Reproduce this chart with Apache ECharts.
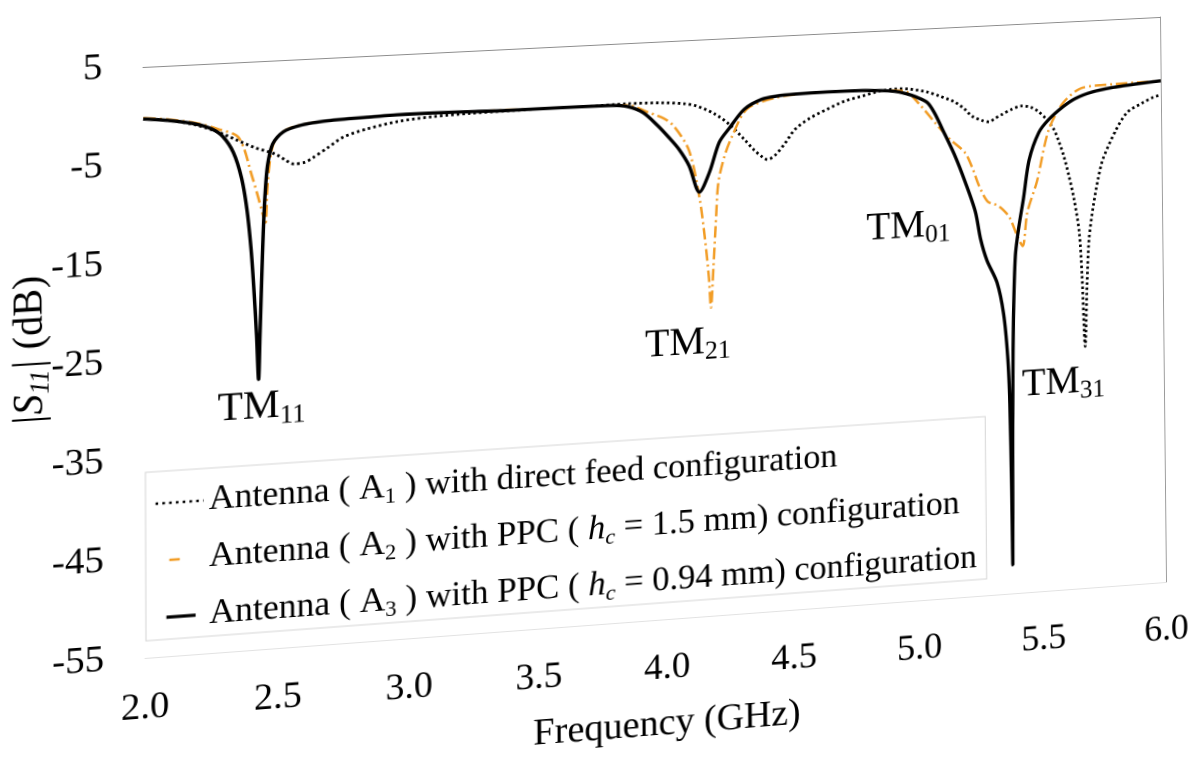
<!DOCTYPE html>
<html>
<head>
<meta charset="utf-8">
<script src="https://cdn.jsdelivr.net/npm/echarts@6/dist/echarts.min.js"></script>
<style>
  html, body { margin: 0; padding: 0; background: #fff; overflow: hidden; width: 1196px; height: 765px; }
  #chart { position: absolute; left: 0; top: 0; width: 1300px; height: 880px; transform-origin: 0 0; }
</style>
</head>
<body>
<div id="chart"></div>
<script>
// ---- Measured |S11| (dB) versus frequency (GHz) ----
// Antenna A1: direct feed
const freqA1 = [2.00, 2.10, 2.20, 2.28, 2.35, 2.42, 2.50, 2.54, 2.57, 2.61, 2.64, 2.70, 2.76, 2.85, 2.97, 3.10, 3.25, 3.40, 3.55, 3.70, 3.86, 4.00, 4.08, 4.13, 4.20, 4.26, 4.32, 4.36, 4.39, 4.41, 4.44, 4.48, 4.52, 4.58, 4.65, 4.72, 4.79, 4.86, 4.92, 4.98, 5.05, 5.10, 5.16, 5.20, 5.23, 5.27, 5.30, 5.32, 5.35, 5.39, 5.43, 5.47, 5.50, 5.53, 5.56, 5.58, 5.60, 5.62, 5.64, 5.66, 5.67, 5.68, 5.69, 5.70, 5.72, 5.74, 5.76, 5.81, 5.86, 5.92, 5.97, 6.00];
const s11A1  = [-0.3, -0.6, -1.2, -2.0, -2.9, -3.8, -4.6, -5.3, -5.7, -5.6, -5.2, -4.2, -3.2, -2.5, -1.9, -1.6, -1.45, -1.4, -1.35, -1.35, -1.3, -1.4, -1.6, -1.9, -2.8, -4.0, -5.7, -6.9, -7.6, -7.9, -7.5, -6.3, -4.9, -3.8, -2.95, -2.2, -1.77, -1.35, -1.2, -1.3, -1.7, -2.2, -2.9, -3.7, -4.5, -5.0, -5.2, -4.9, -4.5, -4.0, -3.7, -3.9, -4.4, -5.2, -6.3, -7.6, -9.2, -11.3, -13.8, -17.3, -22.0, -29.5, -23.0, -18.2, -14.5, -11.8, -9.8, -7.0, -5.0, -4.1, -3.5, -3.3];

// Antenna A2: PPC, hc = 1.5 mm
const freqA2 = [2.00, 2.10, 2.20, 2.28, 2.36, 2.41, 2.45, 2.46, 2.47, 2.49, 2.53, 2.60, 2.70, 2.85, 3.00, 3.20, 3.40, 3.60, 3.80, 3.87, 3.94, 4.00, 4.04, 4.10, 4.14, 4.16, 4.175, 4.182, 4.193, 4.205, 4.215, 4.24, 4.27, 4.33, 4.44, 4.55, 4.70, 4.85, 4.96, 5.02, 5.08, 5.14, 5.20, 5.23, 5.256, 5.29, 5.325, 5.35, 5.378, 5.41, 5.43, 5.45, 5.49, 5.54, 5.60, 5.68, 5.80, 5.90, 6.00];
const s11A2  = [-0.2, -0.5, -1.0, -1.7, -2.7, -6.7, -10.6, -11.8, -7.5, -3.7, -2.3, -1.7, -1.45, -1.3, -1.2, -1.25, -1.3, -1.35, -1.4, -1.5, -2.3, -3.0, -3.85, -6.5, -11.5, -15.7, -19.9, -23.0, -18.8, -13.6, -10.0, -7.3, -5.3, -2.5, -1.5, -1.2, -1.15, -1.3, -1.5, -3.0, -4.96, -6.8, -8.3, -10.0, -11.9, -13.6, -14.0, -14.5, -15.4, -17.5, -18.5, -15.0, -11.8, -6.4, -3.6, -2.1, -1.9, -1.85, -1.8];

// Antenna A3: PPC, hc = 0.94 mm
const freqA3 = [2.00, 2.10, 2.20, 2.26, 2.30, 2.34, 2.37, 2.39, 2.405, 2.415, 2.425, 2.432, 2.438, 2.445, 2.452, 2.46, 2.47, 2.49, 2.53, 2.60, 2.70, 2.85, 3.00, 3.20, 3.40, 3.60, 3.80, 3.86, 3.92, 3.976, 4.02, 4.06, 4.10, 4.14, 4.18, 4.22, 4.26, 4.32, 4.39, 4.45, 4.52, 4.65, 4.80, 4.92, 4.97, 5.00, 5.05, 5.08, 5.11, 5.16, 5.20, 5.24, 5.26, 5.285, 5.325, 5.35, 5.365, 5.372, 5.376, 5.378, 5.381, 5.385, 5.39, 5.40, 5.415, 5.435, 5.46, 5.50, 5.54, 5.60, 5.65, 5.72, 5.80, 5.90, 6.00];
const s11A3  = [-0.3, -0.6, -1.1, -1.7, -2.5, -4.2, -6.8, -10.0, -14.0, -18.0, -23.0, -27.5, -23.0, -17.5, -12.5, -8.5, -5.6, -3.5, -2.35, -1.75, -1.45, -1.3, -1.2, -1.25, -1.35, -1.35, -1.4, -1.6, -2.3, -3.7, -5.0, -6.3, -8.1, -10.9, -8.9, -5.8, -4.4, -2.5, -1.55, -1.3, -1.2, -1.15, -1.2, -1.45, -1.8, -2.1, -2.8, -4.0, -5.7, -8.6, -11.4, -14.6, -17.5, -19.8, -22.2, -25.5, -30.0, -35.0, -44.0, -52.0, -42.0, -33.0, -26.0, -19.5, -16.5, -13.5, -9.4, -6.6, -5.3, -4.0, -3.2, -2.6, -2.25, -2.0, -1.8];

// Resonant mode annotations: frequency, level, mode subscript
const modeFreq  = [2.443, 4.09, 4.97, 5.59];
const modeLevel = [-30.4, -26.6, -15.8, -33.2];
const modeSub   = ['11', '21', '01', '31'];

// Axis ticks
const xTicks = { min: 2.0, max: 6.0, step: 0.5 };
const yTicks = { min: -55, max: 5, step: 10 };

const seriesNames = [
  'Antenna (A1) with direct feed configuration',
  'Antenna (A2) with PPC (hc = 1.5 mm) configuration',
  'Antenna (A3) with PPC (hc = 0.94 mm) configuration'
];
const legendRich = {
  [seriesNames[0]]: 'Antenna ( A{sub|1} ) with direct feed configuration',
  [seriesNames[1]]: 'Antenna ( A{sub|2} ) with PPC ( {it|h}{itsub|c} = 1.5 mm) configuration',
  [seriesNames[2]]: 'Antenna ( A{sub|3} ) with PPC ( {it|h}{itsub|c} = 0.94 mm) configuration'
};

const zip = (xs, ys) => xs.map((x, i) => [x, ys[i]]);

const FONT = 'Liberation Serif';
const INK = '#000000';
const ORANGE = '#f29d26';
const GRID = { left: 143, top: 67, width: 1020, height: 591 };

const el = document.getElementById('chart');
const chart = echarts.init(el, null, { renderer: 'canvas', devicePixelRatio: 2 });

chart.setOption({
  animation: false,
  backgroundColor: '#ffffff',
  grid: { left: GRID.left, top: GRID.top, width: GRID.width, height: GRID.height, outerBoundsMode: 'none', containLabel: false },
  xAxis: [{
    type: 'value', min: xTicks.min, max: xTicks.max, interval: xTicks.step,
    name: 'Frequency (GHz)', nameLocation: 'middle', nameGap: 88,
    nameTextStyle: { fontFamily: FONT, fontSize: 38, color: INK },
    axisLine: { show: true, onZero: false, lineStyle: { color: '#e2e2e2', width: 1 } },
    axisTick: { show: false },
    splitLine: { show: false },
    axisLabel: { formatter: v => v.toFixed(1), fontFamily: FONT, fontSize: 37, color: INK, margin: 32 }
  }, {
    type: 'value', position: 'top', min: xTicks.min, max: xTicks.max,
    axisLine: { show: true, onZero: false, lineStyle: { color: '#8c8c8c', width: 1 } },
    axisTick: { show: false }, axisLabel: { show: false }, splitLine: { show: false }
  }],
  yAxis: [{
    type: 'value', min: yTicks.min, max: yTicks.max, interval: yTicks.step / 2,
    name: '{s||S}{sb|11}{s||} (dB)', nameLocation: 'middle', nameGap: 88, nameRotate: 90,
    nameMoveOverlap: false,
    nameTextStyle: {
      fontFamily: FONT, fontSize: 40, color: INK, padding: [0, 0, 0, 36],
      rich: {
        s: { fontFamily: FONT, fontSize: 40, fontStyle: 'italic', color: INK },
        sb: { fontFamily: FONT, fontSize: 26, fontStyle: 'italic', color: INK, padding: [20, 0, 0, 0], lineHeight: 26 }
      }
    },
    axisLine: { show: false },
    axisTick: { show: false },
    splitLine: { show: false },
    axisLabel: {
      formatter: v => ((v - yTicks.max) % yTicks.step === 0 ? String(v) : ''),
      fontFamily: FONT, fontSize: 37, color: INK, margin: 39
    }
  }, {
    type: 'value', position: 'right', min: yTicks.min, max: yTicks.max,
    axisLine: { show: true, lineStyle: { color: '#9a9a9a', width: 1 } },
    axisTick: { show: false }, axisLabel: { show: false }, splitLine: { show: false }
  }],
  legend: {
    show: true,
    data: [
      { name: seriesNames[0], lineStyle: { type: [2.5, 4], width: 2.4, color: INK } },
      { name: seriesNames[1], lineStyle: { type: [0, 13, 10, 100], width: 2.4, color: ORANGE } },
      { name: seriesNames[2], lineStyle: { type: [0, 10, 28, 100], width: 3.2, color: INK } }
    ],
    orient: 'vertical', left: 144, top: 473,
    padding: [12, 10, 2, 8],
    itemWidth: 46, itemHeight: 14, itemGap: 17,
    itemStyle: { color: 'rgba(0,0,0,0)', borderWidth: 0, opacity: 0 },
    borderColor: '#d6d6d6', borderWidth: 1, backgroundColor: '#ffffff',
    formatter: name => legendRich[name],
    textStyle: {
      fontFamily: FONT, fontSize: 34.5, color: INK, lineHeight: 38,
      rich: {
        sub: { fontFamily: FONT, fontSize: 22, color: INK, padding: [18, 0, 0, 0], lineHeight: 22 },
        it: { fontFamily: FONT, fontSize: 34.5, fontStyle: 'italic', color: INK },
        itsub: { fontFamily: FONT, fontSize: 22, fontStyle: 'italic', color: INK, padding: [18, 0, 0, 0], lineHeight: 22 }
      }
    }
  },
  series: [{
    name: seriesNames[0], type: 'line', data: zip(freqA1, s11A1),
    symbol: 'none', smooth: 0.3, z: 2,
    lineStyle: { color: INK, width: 2.8, type: [2.5, 3] }
  }, {
    name: seriesNames[1], type: 'line', data: zip(freqA2, s11A2),
    symbol: 'none', smooth: 0.3, z: 3,
    lineStyle: { color: ORANGE, width: 2.5, type: [12, 4, 2, 4] }
  }, {
    name: seriesNames[2], type: 'line', data: zip(freqA3, s11A3),
    symbol: 'none', smooth: 0.3, z: 4,
    lineStyle: { color: INK, width: 3.4 }
  }, {
    name: 'modes', type: 'scatter', silent: true, z: 5,
    symbolSize: 1, itemStyle: { color: 'rgba(0,0,0,0)', opacity: 1 },
    data: modeFreq.map((f, i) => ({ value: [f, modeLevel[i]], sub: modeSub[i] })),
    label: {
      show: true, position: 'inside', opacity: 1,
      formatter: p => '{t|TM}{s|' + p.data.sub + '}',
      rich: {
        t: { fontFamily: FONT, fontSize: 40, color: INK },
        s: { fontFamily: FONT, fontSize: 26, color: INK, padding: [20, 0, 0, 0], lineHeight: 26 }
      }
    }
  }]
});

// The figure sits at a slight perspective tilt, like a printed page lying at an angle:
// map the plot rectangle onto the tilted quadrilateral with a projective transform.
const TILTED_CORNERS = [[143, 67], [1160, 17], [1166, 582], [145, 658]];

function solveHomography(src, dst) {
  const A = [], b = [];
  for (let i = 0; i < 4; i++) {
    const [x, y] = src[i], [X, Y] = dst[i];
    A.push([x, y, 1, 0, 0, 0, -x * X, -y * X]); b.push(X);
    A.push([0, 0, 0, x, y, 1, -x * Y, -y * Y]); b.push(Y);
  }
  const n = 8;
  for (let c = 0; c < n; c++) {
    let p = c;
    for (let r = c + 1; r < n; r++) if (Math.abs(A[r][c]) > Math.abs(A[p][c])) p = r;
    [A[c], A[p]] = [A[p], A[c]]; [b[c], b[p]] = [b[p], b[c]];
    for (let r = c + 1; r < n; r++) {
      const f = A[r][c] / A[c][c];
      for (let k = c; k < n; k++) A[r][k] -= f * A[c][k];
      b[r] -= f * b[c];
    }
  }
  const h = new Array(n);
  for (let r = n - 1; r >= 0; r--) {
    let s = b[r];
    for (let k = r + 1; k < n; k++) s -= A[r][k] * h[k];
    h[r] = s / A[r][r];
  }
  return h;
}

const x0 = GRID.left, y0 = GRID.top, x1 = GRID.left + GRID.width, y1 = GRID.top + GRID.height;
const h = solveHomography([[x0, y0], [x1, y0], [x1, y1], [x0, y1]], TILTED_CORNERS);
el.style.transform = 'matrix3d(' + [h[0], h[3], 0, h[6], h[1], h[4], 0, h[7], 0, 0, 1, 0, h[2], h[5], 0, 1].join(',') + ')';
</script>
</body>
</html>
